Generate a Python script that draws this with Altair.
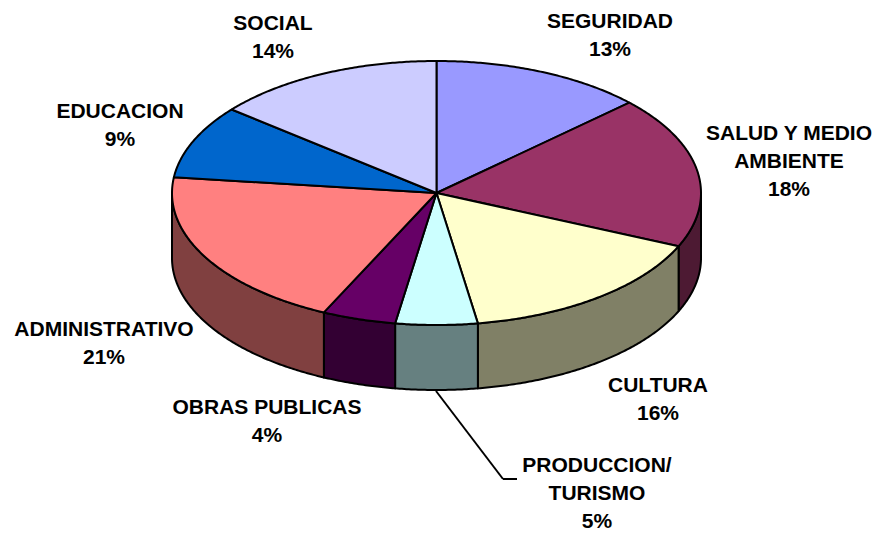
import math
import altair as alt

categories = ["SEGURIDAD", "SALUD Y MEDIO AMBIENTE", "CULTURA", "PRODUCCION/ TURISMO",
              "OBRAS PUBLICAS", "ADMINISTRATIVO", "EDUCACION", "SOCIAL"]
shares = [13.0, 18.6, 15.9, 5.0, 4.5, 19.9, 9.0, 14.1]
top_colors = ["#9999FF", "#993366", "#FFFFCC", "#CCFFFF", "#660066", "#FF8080", "#0066CC", "#CCCCFF"]
wall_colors = ["#4D4D80", "#4D1A33", "#808066", "#668080", "#330033", "#804040", "#003366", "#666680"]

CX, CY, RX, RY, DEPTH = 428.5, 185, 264.5, 132, 65


def pt(a, dy=0):
    r = math.radians(a)
    return [CX + RX * math.sin(r), CY - RY * math.cos(r) + dy]


def arc(a0, a1):
    n = max(2, int(abs(a1 - a0) * 2))
    return [a0 + (a1 - a0) * i / n for i in range(n + 1)]


edges = [0.0]
for s in shares:
    edges.append(edges[-1] + s * 3.6)

features = []
for i in range(len(shares)):
    a0, a1 = edges[i], edges[i + 1]
    lo, hi = max(a0, 90), min(a1, 270)
    if lo < hi:
        ring = [pt(a) for a in arc(lo, hi)] + [pt(a, DEPTH) for a in arc(hi, lo)]
        ring.append(ring[0])
        features.append({"type": "Feature", "properties": {"fill": wall_colors[i]},
                         "geometry": {"type": "Polygon", "coordinates": [ring]}})
for i in range(len(shares)):
    a0, a1 = edges[i], edges[i + 1]
    ring = [[CX, CY]] + [pt(a) for a in arc(a0, a1)] + [[CX, CY]]
    features.append({"type": "Feature", "properties": {"fill": top_colors[i]},
                     "geometry": {"type": "Polygon", "coordinates": [ring]}})

pie = alt.Chart(alt.Data(values=features)).mark_geoshape(
    stroke="black", strokeWidth=2, strokeJoin="round"
).encode(fill=alt.Fill("properties.fill:N", scale=None)).project(
    type="identity", scale=1, translate=[0, 0]
)

leader_a = alt.Chart(alt.Data(values=[{"k": 0}])).mark_rule(color="black", strokeWidth=2).encode(
    x=alt.value(428), x2=alt.value(495), y=alt.value(383), y2=alt.value(471)
)
leader_b = alt.Chart(alt.Data(values=[{"k": 0}])).mark_rule(color="black", strokeWidth=2).encode(
    x=alt.value(495), x2=alt.value(509), y=alt.value(471), y2=alt.value(471)
)


def label(lines, x, y):
    return alt.Chart(alt.Data(values=[{"t": lines}])).mark_text(
        font="Liberation Sans", fontWeight="bold", fontSize=21, lineHeight=28,
        align="center", baseline="top", color="black"
    ).encode(text="t:N", x=alt.value(x - 8), y=alt.value(y - 8))


labels = [
    label(["SEGURIDAD", "13%"], 610, 11),
    label(["SALUD Y MEDIO", "AMBIENTE", "18%"], 789, 123),
    label(["CULTURA", "16%"], 658, 375),
    label(["PRODUCCION/", "TURISMO", "5%"], 597, 455),
    label(["OBRAS PUBLICAS", "4%"], 267, 397),
    label(["ADMINISTRATIVO", "21%"], 104, 319),
    label(["EDUCACION", "9%"], 120, 101),
    label(["SOCIAL", "14%"], 273, 13),
]

chart = alt.layer(leader_a, leader_b, pie, *labels).properties(
    width=865, height=525, padding=0, autosize=alt.AutoSizeParams(type="none")
).configure_view(stroke=None)

chart.save("out.html", embed_options={"renderer": "svg", "actions": False})
